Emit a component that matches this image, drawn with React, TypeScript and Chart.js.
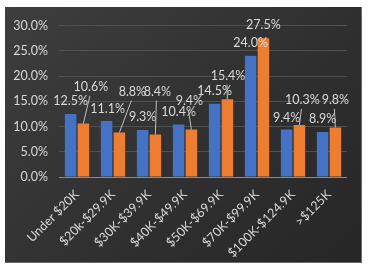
import React, { useEffect, useRef } from "react";
import { Chart, registerables } from "chart.js";

Chart.register(...registerables);

const categories = [
  "Under $20K",
  "$20k-$29.9K",
  "$30K-$39.9K",
  "$40K-$49.9K",
  "$50K-$69.9K",
  "$70K-$99.9K",
  "$100K-$124.9K",
  ">$125K",
];
const seriesA = [12.5, 11.1, 9.3, 10.4, 14.5, 24.0, 9.4, 8.9];
const seriesB = [10.6, 8.8, 8.4, 9.4, 15.4, 27.5, 10.3, 9.8];
const yTicks = [0, 5, 10, 15, 20, 25, 30];

// label placement (layout only): [dx, dy above bar top]
const labelPlaceA = [
  [0, 13], [1, 12], [0, 13], [0, 13], [0, 13], [0, 13], [0, 12], [0, 13],
];
const labelPlaceB = [
  [7.5, 36.6], [13, 41], [2, 43], [-2, 28.8], [0.6, 23.6], [0, 12.7], [3, 25], [0, 27.7],
];

const FONT = "Lato, 'Liberation Sans', sans-serif";
const TEXT = "#d9d9d9";

const labelPlugin = {
  id: "barLabels",
  afterDatasetsDraw(chart: any) {
    const ctx = chart.ctx;
    ctx.save();
    ctx.font = `12.5px ${FONT}`;
    ctx.fillStyle = TEXT;
    ctx.textAlign = "center";
    ctx.textBaseline = "middle";
    chart.data.datasets.forEach((ds: any, di: number) => {
      const meta = chart.getDatasetMeta(di);
      const place = di === 0 ? labelPlaceA : labelPlaceB;
      meta.data.forEach((el: any, i: number) => {
        const [dx, dy] = place[i];
        const lx = el.x + dx;
        const ly = el.y - dy;
        if (dy > 18) {
          ctx.strokeStyle = "#bfbfbf";
          ctx.lineWidth = 1;
          ctx.beginPath();
          ctx.moveTo(el.x, el.y);
          ctx.lineTo(lx - 1, ly + 9);
          ctx.stroke();
        }
        ctx.fillText(ds.data[i].toFixed(1) + "%", lx, ly);
      });
    });
    ctx.restore();
  },
};

export default function App() {
  const ref = useRef<HTMLCanvasElement | null>(null);
  useEffect(() => {
    if (!ref.current) return;
    const chart = new Chart(ref.current, {
      type: "bar",
      data: {
        labels: categories,
        datasets: [
          {
            data: seriesA,
            backgroundColor: "#4472C4",
            categoryPercentage: 0.71,
            barPercentage: 0.9,
          },
          {
            data: seriesB,
            backgroundColor: "#ED7D31",
            categoryPercentage: 0.71,
            barPercentage: 0.9,
          },
        ],
      },
      options: {
        animation: false,
        responsive: false,
        maintainAspectRatio: false,
        layout: { padding: { top: 14, right: 15, left: 0, bottom: 0 } },
        plugins: {
          legend: { display: false },
          tooltip: { enabled: false },
        },
        scales: {
          x: {
            grid: { display: false, drawTicks: false },
            border: { display: false },
            ticks: {
              color: TEXT,
              font: { family: FONT, size: 12.5 },
              minRotation: 45,
              maxRotation: 45,
              padding: 10,
              autoSkip: false,
            },
            afterFit: (s: any) => {
              s.height = 86;
            },
          },
          y: {
            min: 0,
            max: 30,
            afterBuildTicks: (s: any) => {
              s.ticks = yTicks.map((v) => ({ value: v }));
            },
            grid: {
              drawTicks: false,
              color: (c: any) => (c.tick && c.tick.value === 0 ? "#8c8c8c" : "#505050"),
              lineWidth: 1,
            },
            border: { display: false },
            ticks: {
              color: TEXT,
              font: { family: FONT, size: 12.5 },
              padding: 11,
              callback: (v: any) => Number(v).toFixed(1) + "%",
            },
            afterFit: (s: any) => {
              s.width = 54;
            },
          },
        },
      },
      plugins: [labelPlugin],
    });
    return () => chart.destroy();
  }, []);

  return (
    <div
      style={{
        position: "absolute",
        left: 0,
        top: 0,
        width: 368,
        height: 269,
        background: "#ffffff",
      }}
    >
      <div
        style={{
          position: "absolute",
          left: 5,
          top: 7,
          width: 357,
          height: 256,
          background: "linear-gradient(135deg, #3e3e3e 0%, #303030 55%, #262626 100%)",
          boxShadow: "inset -1px -1px 0 #6a6a6a",
        }}
      >
        <canvas ref={ref} width={357} height={256} style={{ display: "block" }} />
      </div>
    </div>
  );
}
